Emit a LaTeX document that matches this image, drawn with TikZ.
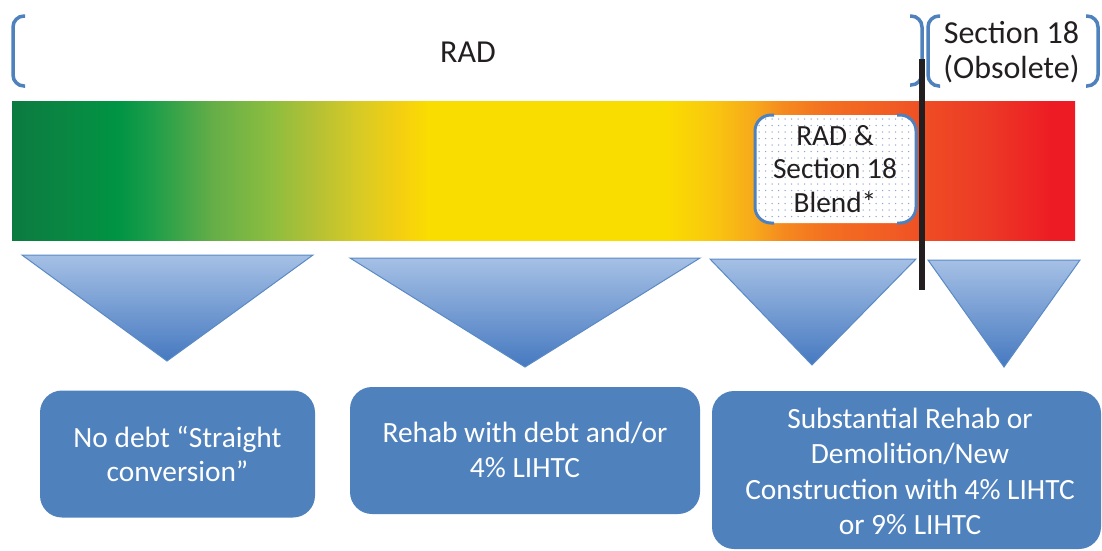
\documentclass[tikz,border=0pt]{standalone}
\usepackage{fontspec}
\setmainfont{Carlito}
\definecolor{brkblue}{HTML}{4F81BD}
\definecolor{txtdark}{HTML}{231F20}
\definecolor{boxblue}{HTML}{4F81BD}
\definecolor{tritop}{HTML}{A5C0E5}
\definecolor{tribot}{HTML}{4679C0}
\definecolor{triedge}{HTML}{5A8AC6}
\definecolor{dotc}{HTML}{8FA8CF}
\definecolor{c01}{HTML}{0B7A40}
\definecolor{c02}{HTML}{0A8642}
\definecolor{c03}{HTML}{009444}
\definecolor{c04}{HTML}{1F9E4A}
\definecolor{c05}{HTML}{66AE48}
\definecolor{c06}{HTML}{8CBD3F}
\definecolor{c07}{HTML}{B3C035}
\definecolor{c08}{HTML}{D6CA26}
\definecolor{c09}{HTML}{F6D00F}
\definecolor{c10}{HTML}{FADD00}
\definecolor{c11}{HTML}{F9C80E}
\definecolor{c12}{HTML}{F7A81B}
\definecolor{c13}{HTML}{F58A1F}
\definecolor{c14}{HTML}{F37021}
\definecolor{c15}{HTML}{F15A24}
\definecolor{c16}{HTML}{EE4A24}
\definecolor{c17}{HTML}{EC3A26}
\definecolor{c18}{HTML}{ED1C24}
\pgfdeclarehorizontalshading{barshade}{100bp}{color(0bp)=(c01); color(25bp)=(c01); color(27.26bp)=(c02); color(29.99bp)=(c03); color(31.68bp)=(c04); color(34.5bp)=(c05); color(37.18bp)=(c06); color(39.2bp)=(c07); color(41.23bp)=(c08); color(43.44bp)=(c09); color(44.61bp)=(c10); color(55.71bp)=(c10); color(57.88bp)=(c11); color(59.9bp)=(c12); color(61.27bp)=(c13); color(63.29bp)=(c14); color(66.63bp)=(c15); color(68.32bp)=(c16); color(70.81bp)=(c17); color(73.87bp)=(c18); color(75bp)=(c18); color(100bp)=(c18)}
\begin{document}
\begin{tikzpicture}[x=1pt,y=-1pt,
  brk/.style={draw=brkblue, line width=3.5pt, rounded corners=11pt},
  blendbrk/.style={draw=brkblue, line width=3pt, rounded corners=16pt},
  toptext/.style={font=\fontsize{32}{35}\selectfont, text=txtdark, inner sep=0pt, anchor=base},
  blendtext/.style={font=\fontsize{29.3}{33.5}\selectfont, text=txtdark, inner sep=0pt, anchor=base},
  boxtext/.style={font=\fontsize{29.4}{35}\selectfont, text=white, inner sep=0pt, anchor=base},
  tri/.style={draw=triedge, line width=1pt, top color=tritop, bottom color=tribot},
  box/.style={fill=boxblue, rounded corners=22pt, inner sep=0pt},
  divider/.style={draw=txtdark, line width=6pt}
]
\useasboundingbox (0,0) rectangle (1102,550);
% top brackets
\draw[brk] (25,16) -- (13,16) -- (13,86) -- (25,86);
\draw[brk] (910,16) -- (922,16) -- (922,85) -- (910,85);
\draw[brk] (940,16) -- (928,16) -- (928,86) -- (940,86);
\draw[brk] (1086,16) -- (1098,16) -- (1098,86) -- (1086,86);
\node[toptext] (rad) at (468,62) {RAD};
\node[toptext] (s18a) at (1011.5,43) {Section 18};
\node[toptext] (s18b) at (1011.5,78) {(Obsolete)};
% gradient bar
\fill[shading=barshade] (12,101) rectangle (1075,240);
% blend box
\fill[white, rounded corners=16pt] (755,115) rectangle (916,223);
\begin{scope}
\clip (757,117) rectangle (914,221);
\foreach \i in {0,...,24} {
  \foreach \j in {0,...,16} {
    \fill[dotc] (759+6.5*\i,119+6.5*\j) circle (0.75pt);
  }
}
\end{scope}
\draw[blendbrk] (774,115) -- (755,115) -- (755,223) -- (774,223);
\draw[blendbrk] (897,115) -- (916,115) -- (916,223) -- (897,223);
\node[blendtext] (bl1) at (835,145) {RAD \&};
\node[blendtext] (bl2) at (835,178.5) {Section 18};
\node[blendtext] (bl3) at (835,212) {Blend*};
% divider
\coordinate (dtop) at (921.5,59);
\coordinate (dbot) at (921.5,290);
\draw[divider] (dtop) -- (dbot);
% triangles
\path[tri] (22,255) -- (313,255) -- (167,361) -- cycle;
\path[tri] (350,258) -- (700,258) -- (525,367) -- cycle;
\path[tri] (710,259) -- (916,259) -- (812,365) -- cycle;
\path[tri] (928,260) -- (1080,260) -- (1004,367) -- cycle;
% boxes
\node[box, minimum width=275pt, minimum height=127pt] (b1) at (177.5,454) {};
\node[box, minimum width=350pt, minimum height=127pt] (b2) at (525,450.5) {};
\node[box, minimum width=389pt, minimum height=158pt] (b3) at (906.5,470) {};
\node[boxtext] (t1a) at (177.5,447) {No debt “Straight};
\node[boxtext] (t1b) at (177.5,481) {conversion”};
\node[boxtext] (t2a) at (525,442) {Rehab with debt and/or};
\node[boxtext] (t2b) at (525,477) {4\% LIHTC};
\node[boxtext] (t3a) at (910,428) {Substantial Rehab or};
\node[boxtext] (t3b) at (910,463) {Demolition/New};
\node[boxtext] (t3c) at (910,499) {Construction with 4\% LIHTC};
\node[boxtext] (t3d) at (910,534) {or 9\% LIHTC};
\end{tikzpicture}
\end{document}
